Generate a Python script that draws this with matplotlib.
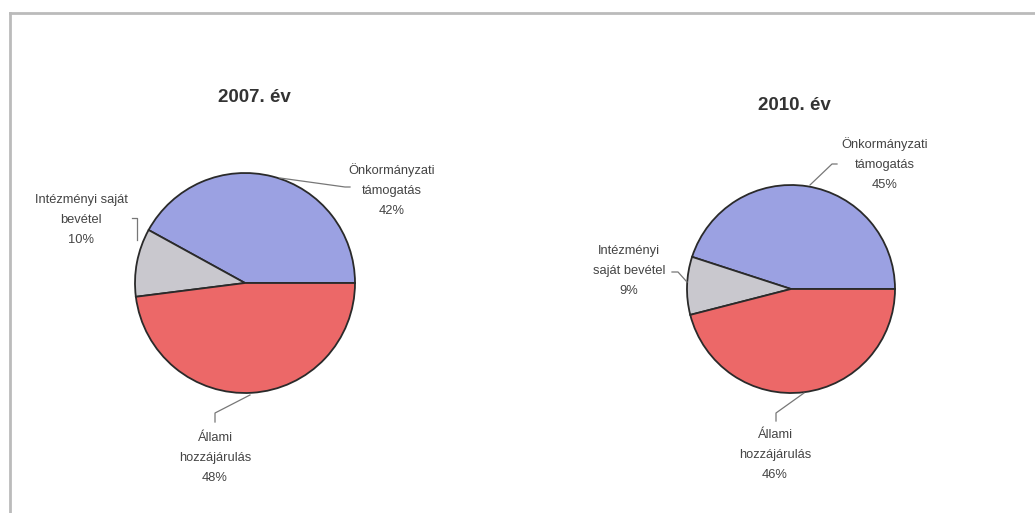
import matplotlib
matplotlib.use("Agg")
import matplotlib.pyplot as plt

# ---- data ----
years = ["2007. év", "2010. év"]
categories = ["Önkormányzati támogatás", "Intézményi saját bevétel", "Állami hozzájárulás"]
shares_2007 = [42, 10, 48]
shares_2010 = [45, 9, 46]
# label text wrapping as printed in each chart
labels_2007 = ["Önkormányzati\ntámogatás", "Intézményi saját\nbevétel", "Állami\nhozzájárulás"]
labels_2010 = ["Önkormányzati\ntámogatás", "Intézményi\nsaját bevétel", "Állami\nhozzájárulás"]

colors = ["#9BA1E2", "#C9C8CE", "#EC6868"]
W, H = 1035, 513

plt.rcParams["font.family"] = ["Liberation Sans", "DejaVu Sans"]
fig = plt.figure(figsize=(W / 100, H / 100), dpi=100)
ax = fig.add_axes([0, 0, 1, 1])

def Y(y):
    return H - y

charts = [
    dict(title=years[0], shares=shares_2007, labels=labels_2007,
         center=(245, 283), radius=110, title_xy=(254, 98),
         label_xy=[(392, 190), (81, 220), (215, 458)],
         leaders=[[(280, 178), (345, 187), (350, 187)],
                  [(132, 218), (137, 218), (137, 240)],
                  [(250, 395), (215, 413), (215, 422)]]),
    dict(title=years[1], shares=shares_2010, labels=labels_2010,
         center=(791, 289), radius=104, title_xy=(794, 105),
         label_xy=[(885, 164), (629, 271), (775, 455)],
         leaders=[[(810, 185), (832, 164), (837, 164)],
                  [(672, 272), (678, 272), (687, 282)],
                  [(804, 393), (776, 413), (776, 421)]]),
]

for ch in charts:
    cx, cy = ch["center"]
    ax.pie(ch["shares"], colors=colors, startangle=0, counterclock=True,
           center=(cx, Y(cy)), radius=ch["radius"],
           wedgeprops=dict(edgecolor="#2a2a2a", linewidth=1.3))
    ax.text(ch["title_xy"][0], Y(ch["title_xy"][1]), ch["title"],
            ha="center", va="center", fontsize=13.5, fontweight="bold",
            color="#333333")
    for lab, val, (lx, ly), pts in zip(ch["labels"], ch["shares"],
                                       ch["label_xy"], ch["leaders"]):
        ax.text(lx, Y(ly), f"{lab}\n{val}%", ha="center", va="center",
                fontsize=9.3, color="#444444", linespacing=1.85)
        ax.plot([p[0] for p in pts], [Y(p[1]) for p in pts],
                color="#777777", linewidth=0.9)

# frame lines of the original page
ax.plot([10, 1035], [Y(13), Y(13)], color="#bbbbbb", linewidth=2)
ax.plot([10, 10], [Y(13), Y(513)], color="#bbbbbb", linewidth=2)

ax.set_xlim(0, W)
ax.set_ylim(0, H)
ax.set_aspect("auto")
ax.axis("off")

fig.savefig("out.png", dpi=100, facecolor="white")
